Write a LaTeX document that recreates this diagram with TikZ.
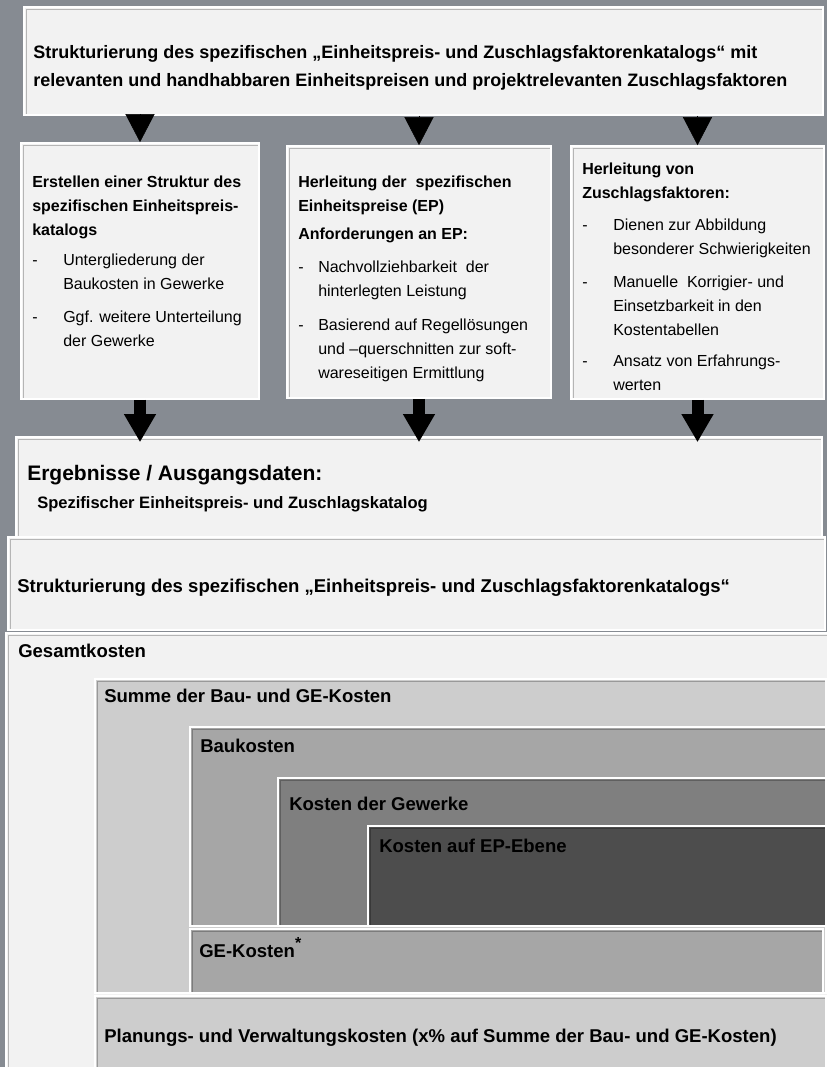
\documentclass[tikz,border=0pt]{standalone}
\usepackage{fontspec}
\setmainfont{Liberation Sans}
\usetikzlibrary{arrows.meta,fit}

\definecolor{hintergrund}{RGB}{134,139,146}
\definecolor{hell}{RGB}{242,242,242}
\definecolor{grau1}{RGB}{205,205,205}
\definecolor{grau2}{RGB}{166,166,166}
\definecolor{grau3}{RGB}{127,127,127}
\definecolor{grau4}{RGB}{77,77,77}

\newcommand{\strich}[1]{\makebox[#1][l]{-}}

\begin{document}
\begin{tikzpicture}[x=0.75pt,y=-0.75pt]
  \fill[hintergrund] (0,0) rectangle (827,1067);
  \useasboundingbox (0,0) rectangle (827,1067);

  \tikzset{panel/.style={draw=white, line width=1.2pt, fill=hell, inner sep=0pt,
                         path picture={\draw[black, opacity=0.25, line width=1.2pt]
                           ([shift={(1.8pt,-1pt)}]path picture bounding box.south west)
                           -- ([shift={(1.8pt,-1.8pt)}]path picture bounding box.north west)
                           -- ([shift={(-1pt,-1.8pt)}]path picture bounding box.north east);}},
           liste/.style={inner sep=0pt, anchor=north west, align=left,
                         font={\fontsize{12pt}{18pt}\selectfont}},
           titel/.style={inner sep=0pt, anchor=base west,
                         font={\fontsize{13.9pt}{16pt}\selectfont\bfseries}},
           spitze/.style={line width=0.4pt, -{Triangle[width=21.75pt,length=21pt]}},
           pfeil/.style={line width=9pt, -{Triangle[width=22.5pt,length=21pt]}, shorten >=-4.5pt}}

  \node[panel, fit={(24,7) (823,115)}] (top) {};
  \node[panel, fit={(21,143) (259,399)}] (box1) {};
  \node[panel, fit={(287,146) (551,398)}] (box2) {};
  \node[panel, fit={(571,146) (824,399)}] (box3) {};
  \node[panel, fit={(16,437) (822,537)}] (res) {};
  \node[panel, fit={(8,537) (825,630)}] (struktur) {};
  \node[panel, fit={(6,633) (829,1070)}] (gesamt) {};
  \node[panel, fill=grau1, fit={(95,679) (826,993)}] (summe) {};
  \node[panel, fill=grau2, fit={(190,727) (826,926)}] (bau) {};
  \node[panel, fill=grau3, fit={(278,778) (826,926)}] (gewerke) {};
  \node[panel, fill=grau4, fit={(368,826) (826,926)}] (ep) {};
  \node[panel, fill=grau2, fit={(190,929) (823,993)}] (ge) {};
  \node[panel, fill=grau1, fit={(95,996) (826,1070)}] (planung) {};

  \node[liste, font={\fontsize{13.5pt}{20.8pt}\selectfont\bfseries}] (toptext) at (33,45)
    {Strukturierung des spezifischen „Einheitspreis- und Zuschlagsfaktorenkatalogs“ mit\\
     relevanten und handhabbaren Einheitspreisen und projektrelevanten Zuschlagsfaktoren};

  \node[liste] (text1) at (32,175.5)
    {\textbf{Erstellen einer Struktur des}\\
     \textbf{spezifischen Einheitspreis-}\\
     \textbf{katalogs}\\[4.5pt]
     \strich{23.25pt}Untergliederung der\\
     \hspace*{23.25pt}Baukosten in Gewerke\\[6.8pt]
     \strich{23.25pt}Ggf. weitere Unterteilung\\
     \hspace*{23.25pt}der Gewerke};

  \node[liste] (text2) at (298,175.5)
    {\textbf{Herleitung der~ spezifischen}\\
     \textbf{Einheitspreise (EP)}\\[3.4pt]
     \textbf{Anforderungen an EP:}\\[6.8pt]
     \strich{15pt}Nachvollziehbarkeit~ der\\
     \hspace*{15pt}hinterlegten Leistung\\[6.8pt]
     \strich{15pt}Basierend auf Regellösungen\\
     \hspace*{15pt}und –querschnitten zur soft-\\
     \hspace*{15pt}wareseitigen Ermittlung};

  \node[liste] (text3) at (582,162.5)
    {\textbf{Herleitung von}\\
     \textbf{Zuschlagsfaktoren:}\\[6.4pt]
     \strich{23.25pt}Dienen zur Abbildung\\
     \hspace*{23.25pt}besonderer Schwierigkeiten\\[6.8pt]
     \strich{23.25pt}Manuelle~ Korrigier- und\\
     \hspace*{23.25pt}Einsetzbarkeit in den\\
     \hspace*{23.25pt}Kostentabellen\\[5.2pt]
     \strich{23.25pt}Ansatz von Erfahrungs-\\
     \hspace*{23.25pt}werten};

  \node[titel, font={\fontsize{15.75pt}{18pt}\selectfont\bfseries}] (restitel) at (27,480)
    {Ergebnisse / Ausgangsdaten:};
  \node[titel, font={\fontsize{12.4pt}{15pt}\selectfont\bfseries}] (restext) at (37,508)
    {Spezifischer Einheitspreis- und Zuschlagskatalog};
  \node[titel] (strukturtext) at (17,592)
    {Strukturierung des spezifischen „Einheitspreis- und Zuschlagsfaktorenkatalogs“};

  \node[titel] (gesamttext) at (18,657) {Gesamtkosten};
  \node[titel] (summetext) at (104,702) {Summe der Bau- und GE-Kosten};
  \node[titel] (bautext) at (200,752) {Baukosten};
  \node[titel] (gewerketext) at (289,810) {Kosten der Gewerke};
  \node[titel] (eptext) at (379,852) {Kosten auf EP-Ebene};
  \node[titel] (getext) at (199,957) {GE-Kosten\raisebox{0.45em}{\large *}};
  \node[titel] (planungtext) at (104,1042)
    {Planungs- und Verwaltungskosten (x\% auf Summe der Bau- und GE-Kosten)};

  \draw[spitze] (top.south -| box1.north) -- (box1.north);
  \draw[spitze] (top.south -| box2.north) -- (box2.north);
  \draw[spitze] (top.south -| box3.north) -- (box3.north);

  \draw[pfeil] (box1.south) -- (box1.south |- res.north);
  \draw[pfeil] (box2.south) -- (box2.south |- res.north);
  \draw[pfeil] (box3.south) -- (box3.south |- res.north);
\end{tikzpicture}
\end{document}
